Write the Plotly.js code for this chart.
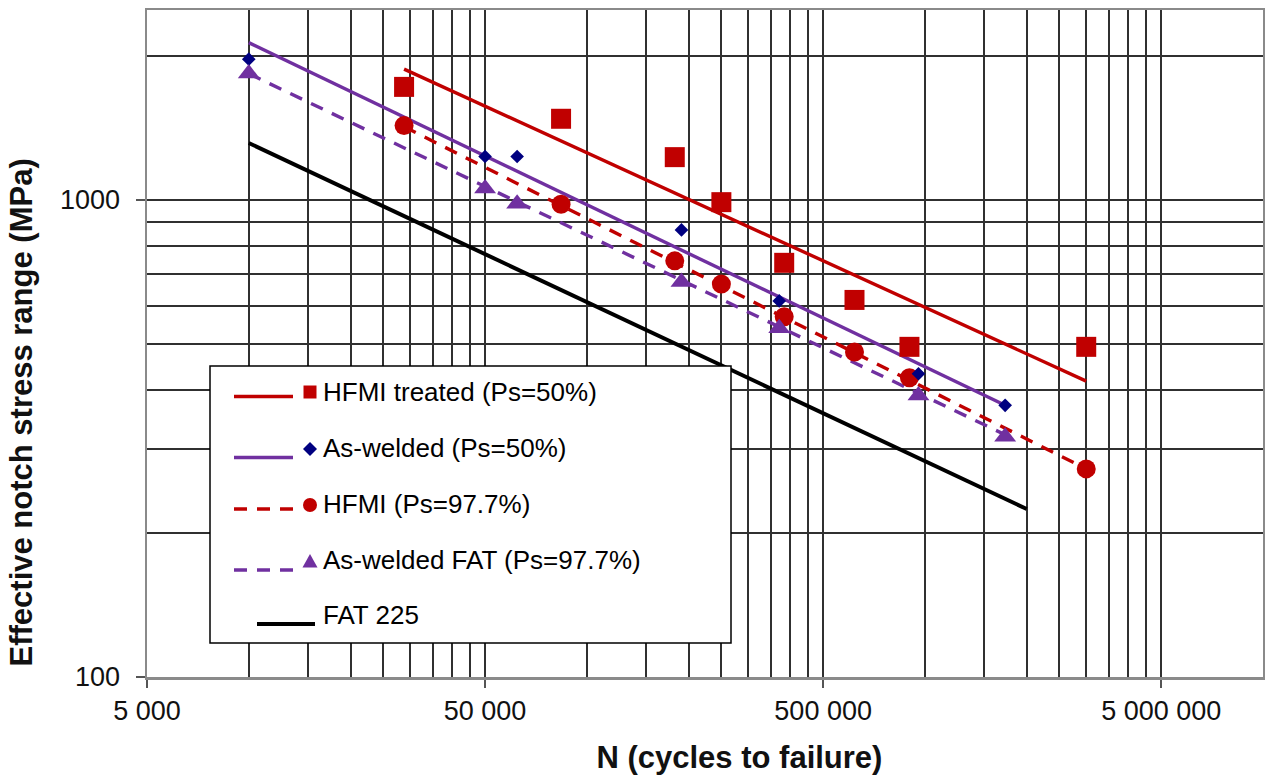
<!DOCTYPE html>
<html>
<head>
<meta charset="utf-8">
<script src="https://cdn.plot.ly/plotly-3.0.1.min.js"></script>
<style>html,body{margin:0;padding:0;background:#fff;}#chart{width:1265px;height:775px;}</style>
</head>
<body>
<div id="chart"></div>
<script>
// ---------- data ----------
const hfmiN      = [28800, 83900, 182000, 250000, 383500, 619000, 900000, 3000000];
const hfmiS50    = [1725, 1479, 1229, 989, 738, 617, 492, 492];
const hfmiS977   = [1431, 979, 745, 666, 569, 480, 424, 273];
const awN        = [10000, 50000, 62200, 190500, 370700, 957000, 1727000];
const awS50      = [1972, 1233, 1233, 865, 614, 432, 371];
const awS977     = [1840, 1056, 982, 673, 538, 389, 319];

const hfmiFitN    = [28800, 3000000];
const hfmiFitS50  = [1879, 417];
const hfmiFitS977 = [1423, 273];
const awFitN      = [10000, 1727000];
const awFitS50    = [2136, 371];
const awFitS977   = [1838, 322];
const fatN        = [10000, 2000000];
const fatS        = [1316, 225];

const legendLabels = ['HFMI treated (Ps=50%)', 'As-welded (Ps=50%)', 'HFMI (Ps=97.7%)', 'As-welded FAT (Ps=97.7%)', 'FAT 225'];
const xTitle = 'N (cycles to failure)';
const yTitle = 'Effective notch stress range (MPa)';

const xTickVals = [5000, 50000, 500000, 5000000];
const xTickText = ['5 000', '50 000', '500 000', '5 000 000'];
const xMinorVals = [10000,15000,20000,25000,30000,35000,40000,45000,
                    100000,150000,200000,250000,300000,350000,400000,450000,
                    1000000,1500000,2000000,2500000,3000000,3500000,4000000,4500000];
const yTickVals = [100, 1000];
const yTickText = ['100', '1000'];
const yMinorVals = [200,300,400,500,600,700,800,900,2000];

// ---------- styles ----------
const RED = '#C00000', PURPLE = '#7030A0', NAVY = '#000080', BLACK = '#000000';
const FONT = 'Liberation Sans, Arial, sans-serif';
const W = 1265, H = 775, ML = 147, MR = 2, MT = 10, MB = 98;
const PW = W - ML - MR, PH = H - MT - MB;
const px = v => (v - ML) / PW;
const py = v => 1 - (v - MT) / PH;
const NB = n => '\u00a0'.repeat(n);
const DASH = '13px,10px';

const traces = [
  {x: fatN, y: fatS, mode: 'lines', line: {color: BLACK, width: 4}, name: legendLabels[4]},
  {x: hfmiFitN, y: hfmiFitS50, mode: 'lines', line: {color: RED, width: 3.4}, name: legendLabels[0]},
  {x: hfmiFitN, y: hfmiFitS977, mode: 'lines', line: {color: RED, width: 3.4, dash: DASH}, name: legendLabels[2]},
  {x: awFitN, y: awFitS50, mode: 'lines', line: {color: PURPLE, width: 3.4}, name: legendLabels[1]},
  {x: awFitN, y: awFitS977, mode: 'lines', line: {color: PURPLE, width: 3.4, dash: DASH}, name: legendLabels[3]},
  {x: hfmiN, y: hfmiS50, mode: 'markers', marker: {symbol: 'square', size: 20, color: RED}, name: legendLabels[0]},
  {x: hfmiN, y: hfmiS977, mode: 'markers', marker: {symbol: 'circle', size: 19, color: RED}, name: legendLabels[2]},
  {x: awN, y: awS50, mode: 'markers', marker: {symbol: 'diamond', size: 10.5, color: NAVY}, name: legendLabels[1]},
  {x: awN, y: awS977, mode: 'markers', marker: {symbol: 'triangle-up', size: 19, color: PURPLE}, name: legendLabels[3]}
];

// ---------- custom legend (box, swatches, labels) ----------
const shapes = [];
const annotations = [];
shapes.push({type: 'rect', xref: 'paper', yref: 'paper', x0: px(210), x1: px(731), y0: py(643), y1: py(366),
  fillcolor: '#ffffff', line: {color: '#000000', width: 1.5}, layer: 'above'});
const rowText = [392, 448, 504, 560, 615];
const rowLine = [396.5, 457.5, 509, 570, 624];
const lineStyles = [
  {color: RED, width: 3.4}, {color: PURPLE, width: 3.4},
  {color: RED, width: 3.4, dash: DASH}, {color: PURPLE, width: 3.4, dash: DASH},
  {color: BLACK, width: 4}
];
const lineX = [[234, 293], [234, 293], [234, 293], [234, 293], [257, 315]];
for (let i = 0; i < 5; i++) {
  shapes.push({type: 'line', xref: 'paper', yref: 'paper', x0: px(lineX[i][0]), x1: px(lineX[i][1]),
    y0: py(rowLine[i]), y1: py(rowLine[i]), line: lineStyles[i], layer: 'above'});
  annotations.push({xref: 'paper', yref: 'paper', x: px(321), y: py(rowText[i]), xanchor: 'left', yanchor: 'middle',
    text: legendLabels[i], showarrow: false, font: {family: FONT, size: 26, color: '#000'}});
}
// legend markers
const mx = 310;
shapes.push({type: 'rect', xref: 'paper', yref: 'paper', x0: px(mx - 6.5), x1: px(mx + 6.5), y0: py(rowText[0] + 6.5), y1: py(rowText[0] - 6.5),
  fillcolor: RED, line: {width: 0}, layer: 'above'});
{
  const cy = rowText[1] + 1, r = 7;
  shapes.push({type: 'path', xref: 'paper', yref: 'paper',
    path: `M ${px(mx - r)} ${py(cy)} L ${px(mx)} ${py(cy - r)} L ${px(mx + r)} ${py(cy)} L ${px(mx)} ${py(cy + r)} Z`,
    fillcolor: NAVY, line: {width: 0}, layer: 'above'});
}
shapes.push({type: 'circle', xref: 'paper', yref: 'paper', x0: px(mx - 7), x1: px(mx + 7), y0: py(rowText[2] + 8), y1: py(rowText[2] - 6),
  fillcolor: RED, line: {width: 0}, layer: 'above'});
{
  const cy = rowText[3] + 1;
  shapes.push({type: 'path', xref: 'paper', yref: 'paper',
    path: `M ${px(mx - 7.5)} ${py(cy + 6.5)} L ${px(mx + 7.5)} ${py(cy + 6.5)} L ${px(mx)} ${py(cy - 7)} Z`,
    fillcolor: PURPLE, line: {width: 0}, layer: 'above'});
}

const gridColor = '#303030';
const GW = 2;
const layout = {
  width: W, height: H,
  margin: {l: ML, r: MR, t: MT, b: MB, pad: 0},
  paper_bgcolor: '#ffffff', plot_bgcolor: '#ffffff',
  showlegend: false,
  font: {family: FONT, color: '#000'},
  xaxis: {
    type: 'log', range: [Math.log10(5000), 7],
    tickmode: 'array', tickvals: xTickVals, ticktext: xTickText,
    showgrid: true, gridcolor: gridColor, gridwidth: GW,
    minor: {tickmode: 'array', tickvals: xMinorVals, showgrid: true, gridcolor: gridColor, gridwidth: GW, ticks: ''},
    showline: true, linecolor: '#8a8a8a', linewidth: 2.5, mirror: true,
    ticks: 'outside', ticklen: 8, tickwidth: 1.5, tickcolor: '#555',
    tickfont: {family: FONT, size: 27, color: '#111'},
    zeroline: false,
    title: {text: '<b>' + NB(8) + xTitle + '</b>', font: {family: FONT, size: 31, color: '#111'}, standoff: 22}
  },
  yaxis: {
    type: 'log', range: [2, Math.log10(2500)],
    tickmode: 'array', tickvals: yTickVals, ticktext: yTickText,
    showgrid: true, gridcolor: gridColor, gridwidth: GW,
    minor: {tickmode: 'array', tickvals: yMinorVals, showgrid: true, gridcolor: gridColor, gridwidth: GW, ticks: ''},
    showline: true, linecolor: '#8a8a8a', linewidth: 2.5, mirror: true,
    ticks: 'outside', ticklen: 9, tickwidth: 1.5, tickcolor: '#555',
    ticklabelstandoff: 10,
    tickfont: {family: FONT, size: 27, color: '#111'},
    zeroline: false,
    title: {text: '<b>' + yTitle + NB(16) + '</b>', font: {family: FONT, size: 31, color: '#111'}, standoff: 18}
  },
  shapes: shapes,
  annotations: annotations
};

Plotly.newPlot('chart', traces, layout, {staticPlot: true, displayModeBar: false});
</script>
</body>
</html>
